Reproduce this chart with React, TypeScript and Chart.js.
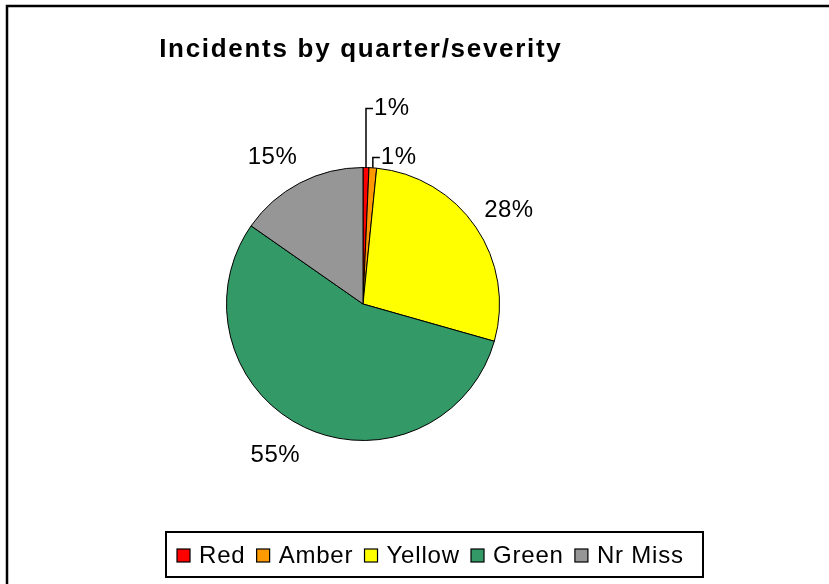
import React, { useEffect, useRef } from "react";
import { Chart, registerables } from "chart.js";

Chart.register(...registerables);

// ---- data ----
const categories: string[] = ["Red", "Amber", "Yellow", "Green", "Nr Miss"];
const shares: number[] = [0.7, 0.9, 27.8, 55.3, 15.3];
const sliceColors: string[] = ["#FF0000", "#FF9900", "#FFFF00", "#339966", "#969696"];
const titleText = "Incidents by quarter/severity";

const FONT = "'Liberation Sans', Arial, sans-serif";

// label nudges (style only) for the outside labels
const labelNudge: [number, number][] = [
  [0, 0],
  [0, 0],
  [3, 3],
  [-14, -4],
  [-11, 6],
];
const smallRise = [59, 10];

const decorPlugin = {
  id: "decor",
  beforeDraw(chart: any) {
    const ctx = chart.ctx as CanvasRenderingContext2D;
    ctx.save();
    ctx.fillStyle = "#ffffff";
    ctx.fillRect(0, 0, chart.width, chart.height);
    ctx.strokeStyle = "#000";
    ctx.lineWidth = 2.5;
    ctx.strokeRect(7, 6, chart.width + 40, chart.height + 40);
    ctx.restore();
  },
  afterDraw(chart: any) {
    const ctx = chart.ctx as CanvasRenderingContext2D;
    const meta = chart.getDatasetMeta(0);
    const total = shares.reduce((a, b) => a + b, 0);
    const arc0: any = meta.data[0];
    const cx = arc0.x;
    const cy = arc0.y;
    const r = arc0.outerRadius;

    ctx.save();
    // title
    ctx.fillStyle = "#000";
    const tls = 1.7;
    ctx.font = `bold 26px ${FONT}`;
    (ctx as any).letterSpacing = `${tls}px`;
    ctx.textAlign = "left";
    ctx.textBaseline = "alphabetic";
    const tw = ctx.measureText(titleText).width - tls;
    ctx.fillText(titleText, cx - 3 - tw / 2, 57);

    // data labels
    const lls = 0.5;
    ctx.font = `24px ${FONT}`;
    (ctx as any).letterSpacing = `${lls}px`;
    ctx.strokeStyle = "#000";
    ctx.lineWidth = 1.5;
    let smallIdx = 0;
    meta.data.forEach((arc: any, i: number) => {
      const pct = Math.round((shares[i] / total) * 100);
      const txt = `${pct}%`;
      const mid = (arc.startAngle + arc.endAngle) / 2;
      if (shares[i] / total < 0.03) {
        const ex = cx + r * Math.cos(mid);
        const ey = cy + r * Math.sin(mid);
        const ly = cy - r - smallRise[smallIdx % smallRise.length];
        smallIdx++;
        ctx.beginPath();
        ctx.moveTo(ex, ey);
        ctx.lineTo(ex, ly);
        ctx.lineTo(ex + 7, ly);
        ctx.stroke();
        ctx.textAlign = "left";
        ctx.textBaseline = "middle";
        ctx.fillText(txt, ex + 8, ly);
      } else {
        const d = r + 36;
        const w = ctx.measureText(txt).width - lls;
        const x = cx + d * Math.cos(mid) + labelNudge[i][0];
        const y = cy + d * Math.sin(mid) + labelNudge[i][1];
        ctx.textAlign = "left";
        ctx.textBaseline = "middle";
        ctx.fillText(txt, x - w / 2, y);
      }
    });

    // legend
    const bx = 166, by = 532, bw = 537, bh = 45;
    ctx.lineWidth = 2;
    ctx.strokeRect(bx, by, bw, bh);
    const legLs = 0.8;
    ctx.font = `24px ${FONT}`;
    (ctx as any).letterSpacing = `${legLs}px`;
    ctx.textAlign = "left";
    ctx.textBaseline = "alphabetic";
    let x = 177;
    const sq = 13;
    categories.forEach((c, i) => {
      ctx.fillStyle = sliceColors[i];
      ctx.fillRect(x, 549, sq, sq);
      ctx.lineWidth = 1.2;
      ctx.strokeStyle = "#000";
      ctx.strokeRect(x, 549, sq, sq);
      ctx.fillStyle = "#000";
      ctx.fillText(c, x + sq + 9, 563);
      x += sq + 9 + ctx.measureText(c).width - legLs + 12;
    });
    ctx.restore();
  },
};

export default function App() {
  const ref = useRef<HTMLCanvasElement | null>(null);
  useEffect(() => {
    if (!ref.current) return;
    const chart = new Chart(ref.current, {
      type: "pie",
      data: {
        labels: categories,
        datasets: [
          {
            data: shares,
            backgroundColor: sliceColors,
            borderColor: "#000",
            borderWidth: 1,
            hoverOffset: 0,
          },
        ],
      },
      options: {
        responsive: false,
        animation: false,
        devicePixelRatio: 1,
        layout: { padding: { left: 226, top: 167, right: 329, bottom: 143 } },
        plugins: {
          legend: { display: false },
          title: { display: false },
          tooltip: { enabled: false },
        },
      },
      plugins: [decorPlugin],
    });
    return () => chart.destroy();
  }, []);
  return (
    <div style={{ position: "absolute", left: 0, top: 0, width: 829, height: 584 }}>
      <canvas ref={ref} width={829} height={584} style={{ display: "block" }} />
    </div>
  );
}
